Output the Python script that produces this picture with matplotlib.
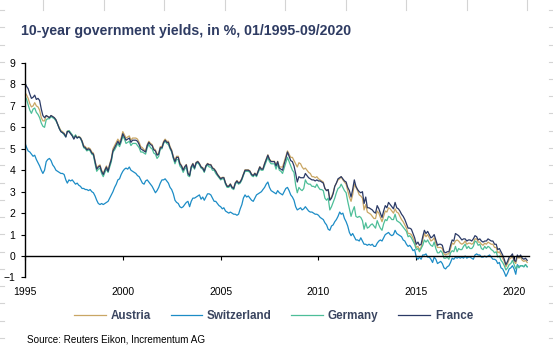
import numpy as np
import pandas as pd
import matplotlib
matplotlib.use("Agg")
import matplotlib.pyplot as plt
import matplotlib.dates as mdates
from matplotlib.lines import Line2D

plt.rcParams['font.family'] = ['Liberation Sans', 'DejaVu Sans']

# monthly 10y yields in %, 01/1995 - 09/2020
austria = [
    7.63, 7.50, 7.35, 7.10, 6.95, 7.00, 7.15, 7.00, 6.95, 6.80, 6.45, 6.30,  # 1995
    6.30, 6.55, 6.50, 6.45, 6.55, 6.50, 6.45, 6.35, 6.15, 6.00, 5.85, 5.80,  # 1996
    5.73, 5.58, 5.83, 5.83, 5.73, 5.63, 5.48, 5.63, 5.53, 5.58, 5.53, 5.38,  # 1997
    5.15, 5.10, 5.00, 5.05, 5.00, 4.85, 4.80, 4.45, 4.10, 4.20, 4.25, 4.00,  # 1998
    3.85, 4.05, 4.20, 4.00, 4.30, 4.55, 5.00, 5.15, 5.30, 5.45, 5.30, 5.50,  # 1999
    5.80, 5.65, 5.50, 5.55, 5.60, 5.40, 5.50, 5.50, 5.50, 5.45, 5.30, 5.10,  # 2000
    5.05, 4.95, 4.90, 5.20, 5.35, 5.25, 5.20, 5.00, 4.95, 4.75, 4.80, 5.10,  # 2001
    5.10, 5.35, 5.45, 5.35, 5.35, 5.10, 4.95, 4.65, 4.45, 4.65, 4.65, 4.35,  # 2002
    4.22, 4.02, 4.17, 4.27, 3.87, 3.78, 4.17, 4.32, 4.12, 4.37, 4.42, 4.32,  # 2003
    4.17, 4.12, 3.97, 4.22, 4.32, 4.27, 4.27, 4.12, 4.07, 3.97, 3.82, 3.72,  # 2004
    3.62, 3.67, 3.67, 3.42, 3.27, 3.27, 3.37, 3.22, 3.17, 3.42, 3.52, 3.42,  # 2005
    3.47, 3.62, 3.82, 4.02, 4.02, 4.02, 3.97, 3.82, 3.77, 3.87, 3.77, 3.97,  # 2006
    4.17, 4.07, 4.07, 4.32, 4.52, 4.72, 4.52, 4.42, 4.42, 4.42, 4.22, 4.42,  # 2007
    4.15, 4.15, 4.15, 4.40, 4.65, 4.90, 4.75, 4.60, 4.60, 4.45, 4.30, 4.15,  # 2008
    4.35, 4.30, 4.15, 4.05, 4.10, 4.00, 3.90, 3.85, 3.70, 3.70, 3.65, 3.70,  # 2009
    3.60, 3.55, 3.50, 3.45, 3.15, 3.05, 3.10, 2.65, 2.75, 2.95, 3.25, 3.40,  # 2010
    3.55, 3.60, 3.70, 3.55, 3.45, 3.35, 3.05, 2.75, 2.55, 2.85, 3.35, 3.20,  # 2011
    3.05, 2.85, 2.80, 2.70, 2.15, 2.40, 2.05, 2.00, 1.95, 1.85, 1.75, 1.75,  # 2012
    2.10, 2.00, 1.80, 1.60, 1.85, 2.10, 2.05, 2.25, 2.20, 2.10, 2.00, 2.20,  # 2013
    2.05, 2.00, 1.85, 1.70, 1.60, 1.45, 1.30, 1.05, 1.05, 1.00, 0.85, 0.65,  # 2014
    0.40, 0.45, 0.30, 0.40, 0.75, 1.05, 0.90, 1.00, 0.85, 0.70, 0.75, 0.85,  # 2015
    0.60, 0.40, 0.40, 0.40, 0.35, 0.10, 0.05, 0.10, 0.10, 0.35, 0.60, 0.55,  # 2016
    0.70, 0.75, 0.70, 0.60, 0.55, 0.60, 0.70, 0.55, 0.60, 0.60, 0.55, 0.60,  # 2017
    0.80, 0.80, 0.65, 0.65, 0.55, 0.50, 0.60, 0.55, 0.65, 0.60, 0.55, 0.55,  # 2018
    0.40, 0.40, 0.15, 0.20, 0.05, -0.10, -0.25, -0.50, -0.35, -0.15, -0.10, 0.00,  # 2019
    -0.25, -0.35, -0.05, -0.10, -0.05, -0.20, -0.25, -0.20, -0.30,  # 2020
]

switzerland = [
    5.27, 5.05, 4.90, 4.85, 4.75, 4.65, 4.70, 4.50, 4.35, 4.20, 4.00, 3.85,  # 1995
    4.00, 4.40, 4.50, 4.55, 4.45, 4.25, 4.15, 4.00, 3.95, 3.90, 3.85, 3.85,  # 1996
    3.80, 3.55, 3.40, 3.55, 3.50, 3.55, 3.45, 3.35, 3.40, 3.30, 3.25, 3.15,  # 1997
    3.15, 3.10, 3.10, 3.05, 3.10, 3.00, 2.95, 2.80, 2.60, 2.45, 2.40, 2.45,  # 1998
    2.40, 2.45, 2.50, 2.55, 2.70, 2.85, 3.00, 3.20, 3.35, 3.55, 3.60, 3.80,  # 1999
    3.95, 4.05, 4.10, 4.05, 4.15, 4.00, 3.95, 3.90, 3.85, 3.75, 3.70, 3.55,  # 2000
    3.40, 3.35, 3.50, 3.55, 3.45, 3.35, 3.25, 3.10, 2.95, 3.05, 3.20, 3.40,  # 2001
    3.55, 3.55, 3.60, 3.50, 3.40, 3.20, 3.10, 2.90, 2.60, 2.50, 2.45, 2.30,  # 2002
    2.25, 2.30, 2.40, 2.50, 2.55, 2.30, 2.55, 2.70, 2.70, 2.75, 2.80, 2.85,  # 2003
    2.65, 2.75, 2.60, 2.75, 2.90, 2.90, 2.85, 2.70, 2.55, 2.55, 2.45, 2.35,  # 2004
    2.30, 2.20, 2.25, 2.10, 2.05, 2.00, 2.05, 2.00, 1.95, 1.95, 1.90, 1.95,  # 2005
    2.20, 2.40, 2.70, 2.85, 2.75, 2.80, 2.70, 2.60, 2.55, 2.70, 2.85, 2.90,  # 2006
    2.95, 3.00, 3.10, 3.20, 3.35, 3.45, 3.20, 3.05, 3.00, 2.95, 2.90, 3.05,  # 2007
    2.95, 2.90, 2.85, 3.00, 3.15, 3.20, 3.05, 2.85, 2.75, 2.60, 2.30, 2.15,  # 2008
    2.20, 2.25, 2.15, 2.20, 2.30, 2.20, 2.10, 2.05, 2.05, 2.00, 1.95, 1.95,  # 2009
    1.90, 1.80, 1.75, 1.70, 1.55, 1.45, 1.25, 1.20, 1.40, 1.45, 1.60, 1.70,  # 2010
    1.85, 2.05, 1.95, 2.00, 1.75, 1.60, 1.40, 1.10, 0.95, 1.05, 0.90, 0.75,  # 2011
    0.75, 0.70, 0.85, 0.70, 0.55, 0.55, 0.50, 0.55, 0.50, 0.55, 0.45, 0.45,  # 2012
    0.60, 0.70, 0.75, 0.70, 0.85, 1.00, 1.05, 1.10, 1.00, 0.95, 1.00, 1.20,  # 2013
    1.05, 1.00, 0.95, 0.90, 0.75, 0.70, 0.55, 0.45, 0.50, 0.40, 0.25, 0.30,  # 2014
    -0.05, -0.15, -0.05, -0.15, 0.05, 0.05, 0.10, -0.05, -0.05, -0.15, -0.30, -0.05,  # 2015
    -0.15, -0.35, -0.30, -0.25, -0.35, -0.55, -0.60, -0.50, -0.45, -0.30, -0.10, -0.15,  # 2016
    -0.05, -0.10, -0.05, -0.10, -0.05, -0.10, 0.00, -0.10, -0.05, -0.05, -0.10, -0.15,  # 2017
    0.05, 0.10, 0.05, 0.05, -0.05, -0.05, 0.00, -0.05, 0.00, 0.05, -0.05, -0.15,  # 2018
    -0.15, -0.20, -0.35, -0.30, -0.55, -0.60, -0.75, -0.95, -0.80, -0.60, -0.55, -0.45,  # 2019
    -0.60, -0.85, -0.40, -0.50, -0.45, -0.45, -0.50, -0.40, -0.50,  # 2020
]

germany = [
    7.45, 7.30, 7.05, 6.80, 6.65, 6.85, 6.90, 6.70, 6.60, 6.45, 6.20, 6.05,  # 1995
    6.00, 6.35, 6.40, 6.40, 6.50, 6.45, 6.40, 6.30, 6.15, 5.95, 5.80, 5.75,  # 1996
    5.65, 5.55, 5.80, 5.85, 5.75, 5.65, 5.50, 5.65, 5.50, 5.55, 5.50, 5.30,  # 1997
    5.05, 5.00, 4.90, 4.95, 4.90, 4.75, 4.70, 4.30, 3.95, 4.05, 4.10, 3.85,  # 1998
    3.70, 3.90, 4.05, 3.90, 4.15, 4.40, 4.85, 4.95, 5.10, 5.25, 5.10, 5.30,  # 1999
    5.60, 5.45, 5.25, 5.30, 5.35, 5.15, 5.25, 5.25, 5.25, 5.15, 5.05, 4.85,  # 2000
    4.85, 4.80, 4.75, 5.05, 5.20, 5.05, 5.00, 4.80, 4.75, 4.55, 4.65, 5.00,  # 2001
    5.00, 5.25, 5.35, 5.25, 5.20, 5.00, 4.85, 4.55, 4.30, 4.50, 4.50, 4.20,  # 2002
    4.10, 3.90, 4.05, 4.15, 3.75, 3.70, 4.10, 4.20, 4.05, 4.30, 4.35, 4.25,  # 2003
    4.10, 4.05, 3.90, 4.15, 4.25, 4.15, 4.15, 4.00, 4.00, 3.85, 3.75, 3.65,  # 2004
    3.55, 3.60, 3.60, 3.35, 3.20, 3.20, 3.30, 3.15, 3.10, 3.35, 3.45, 3.35,  # 2005
    3.40, 3.55, 3.75, 3.95, 3.95, 3.95, 3.90, 3.75, 3.70, 3.80, 3.70, 3.90,  # 2006
    4.05, 4.00, 4.00, 4.20, 4.40, 4.60, 4.40, 4.30, 4.30, 4.30, 4.05, 4.30,  # 2007
    4.00, 3.95, 3.85, 4.10, 4.35, 4.60, 4.40, 4.20, 4.00, 3.90, 3.30, 2.95,  # 2008
    3.20, 3.10, 3.05, 3.15, 3.55, 3.40, 3.35, 3.35, 3.25, 3.25, 3.20, 3.35,  # 2009
    3.20, 3.10, 3.10, 3.05, 2.70, 2.60, 2.70, 2.15, 2.30, 2.50, 2.70, 2.95,  # 2010
    3.15, 3.20, 3.35, 3.20, 3.05, 2.95, 2.55, 2.20, 1.85, 2.10, 2.30, 1.85,  # 2011
    1.80, 1.85, 1.80, 1.65, 1.25, 1.55, 1.30, 1.35, 1.45, 1.50, 1.40, 1.30,  # 2012
    1.65, 1.45, 1.30, 1.20, 1.50, 1.70, 1.65, 1.85, 1.80, 1.70, 1.70, 1.95,  # 2013
    1.65, 1.60, 1.55, 1.45, 1.35, 1.25, 1.15, 0.90, 0.95, 0.85, 0.70, 0.55,  # 2014
    0.30, 0.35, 0.20, 0.35, 0.50, 0.75, 0.65, 0.75, 0.60, 0.50, 0.45, 0.65,  # 2015
    0.35, 0.15, 0.15, 0.25, 0.15, -0.10, -0.10, -0.05, -0.15, 0.15, 0.25, 0.20,  # 2016
    0.45, 0.20, 0.35, 0.30, 0.30, 0.45, 0.55, 0.35, 0.45, 0.35, 0.35, 0.45,  # 2017
    0.70, 0.65, 0.50, 0.55, 0.35, 0.30, 0.45, 0.35, 0.45, 0.40, 0.30, 0.25,  # 2018
    0.15, 0.20, -0.05, 0.00, -0.20, -0.30, -0.45, -0.65, -0.55, -0.40, -0.35, -0.20,  # 2019
    -0.40, -0.60, -0.45, -0.55, -0.45, -0.45, -0.50, -0.40, -0.50,  # 2020
]

france = [
    8.07, 7.90, 7.80, 7.55, 7.35, 7.40, 7.50, 7.30, 7.35, 7.25, 6.85, 6.55,  # 1995
    6.45, 6.55, 6.50, 6.45, 6.55, 6.50, 6.45, 6.35, 6.15, 5.95, 5.80, 5.75,  # 1996
    5.70, 5.55, 5.80, 5.80, 5.70, 5.60, 5.45, 5.60, 5.50, 5.55, 5.50, 5.35,  # 1997
    5.10, 5.05, 4.95, 5.00, 4.95, 4.80, 4.75, 4.40, 4.05, 4.15, 4.20, 3.95,  # 1998
    3.80, 4.00, 4.15, 3.95, 4.25, 4.50, 4.90, 5.05, 5.20, 5.35, 5.20, 5.40,  # 1999
    5.70, 5.55, 5.40, 5.45, 5.50, 5.30, 5.40, 5.40, 5.40, 5.35, 5.20, 5.00,  # 2000
    4.95, 4.90, 4.85, 5.15, 5.30, 5.20, 5.15, 4.95, 4.90, 4.70, 4.75, 5.05,  # 2001
    5.05, 5.30, 5.40, 5.30, 5.30, 5.05, 4.90, 4.60, 4.40, 4.60, 4.60, 4.30,  # 2002
    4.20, 4.00, 4.15, 4.25, 3.85, 3.75, 4.15, 4.30, 4.10, 4.35, 4.40, 4.30,  # 2003
    4.15, 4.10, 3.95, 4.20, 4.30, 4.25, 4.25, 4.10, 4.05, 3.95, 3.80, 3.70,  # 2004
    3.60, 3.65, 3.65, 3.40, 3.25, 3.25, 3.35, 3.20, 3.15, 3.40, 3.50, 3.40,  # 2005
    3.45, 3.60, 3.80, 4.00, 4.00, 4.00, 3.95, 3.80, 3.75, 3.85, 3.75, 3.95,  # 2006
    4.15, 4.05, 4.05, 4.30, 4.50, 4.70, 4.50, 4.40, 4.40, 4.40, 4.20, 4.40,  # 2007
    4.10, 4.05, 4.00, 4.30, 4.55, 4.85, 4.65, 4.45, 4.40, 4.20, 3.85, 3.45,  # 2008
    3.70, 3.65, 3.65, 3.65, 3.85, 3.75, 3.65, 3.60, 3.55, 3.55, 3.50, 3.55,  # 2009
    3.50, 3.50, 3.45, 3.40, 3.15, 3.05, 3.10, 2.60, 2.70, 2.90, 3.25, 3.40,  # 2010
    3.60, 3.65, 3.70, 3.60, 3.50, 3.45, 3.20, 3.05, 2.75, 3.10, 3.55, 3.25,  # 2011
    3.10, 3.00, 2.95, 3.00, 2.45, 2.75, 2.25, 2.25, 2.20, 2.15, 2.05, 2.00,  # 2012
    2.35, 2.20, 2.00, 1.80, 2.10, 2.35, 2.25, 2.50, 2.40, 2.30, 2.20, 2.50,  # 2013
    2.25, 2.20, 2.10, 1.95, 1.85, 1.70, 1.50, 1.30, 1.30, 1.25, 1.05, 0.85,  # 2014
    0.55, 0.65, 0.50, 0.55, 0.90, 1.20, 1.05, 1.15, 1.00, 0.85, 0.90, 1.00,  # 2015
    0.75, 0.50, 0.55, 0.55, 0.50, 0.20, 0.15, 0.20, 0.20, 0.50, 0.75, 0.70,  # 2016
    1.05, 1.00, 0.95, 0.85, 0.75, 0.80, 0.80, 0.70, 0.75, 0.75, 0.70, 0.80,  # 2017
    0.95, 0.90, 0.75, 0.80, 0.70, 0.65, 0.70, 0.70, 0.80, 0.75, 0.70, 0.70,  # 2018
    0.55, 0.55, 0.30, 0.35, 0.20, 0.05, -0.15, -0.40, -0.25, -0.05, 0.00, 0.10,  # 2019
    -0.20, -0.25, 0.05, -0.05, 0.05, -0.10, -0.15, -0.10, -0.20,  # 2020
]

dates = pd.date_range("1995-01-01", periods=len(france), freq="MS")

names = ["Austria", "Switzerland", "Germany", "France"]
colors = ["#C9A664", "#1C8CC6", "#4DBE98", "#2B3A66"]
series = [austria, switzerland, germany, france]

fig = plt.figure(figsize=(5.53, 3.46), dpi=100)
ax = fig.add_axes([0.0452, 0.198, 0.911, 0.620])

for name, col, vals in zip(names, colors, series):
    ax.plot(dates, vals, color=col, lw=0.9, label=name)

ax.set_ylim(-1, 9)
ax.set_yticks(range(-1, 10))
ax.set_xlim(pd.Timestamp("1995-01-01"), pd.Timestamp("2020-10-01"))
ax.xaxis.set_major_locator(mdates.YearLocator(5))
ax.xaxis.set_major_formatter(mdates.DateFormatter("%Y"))

ax.spines["top"].set_visible(False)
ax.spines["right"].set_visible(False)
ax.spines["bottom"].set_position(("data", 0))
ax.spines["bottom"].set_linewidth(1.0)
ax.spines["left"].set_linewidth(1.0)
ax.tick_params(axis="y", direction="out", length=3, width=0.8, labelsize=7.5, pad=4)
ax.tick_params(axis="x", direction="out", length=3, width=0.8, labelsize=7.5, pad=19)

fig.text(0.038, 0.91, "10-year government yields, in %, 01/1995-09/2020",
         fontsize=10.2, fontweight="bold", color="#2F3C63", va="center")

leg = fig.legend(loc="center", bbox_to_anchor=(0.4946, 0.087), ncol=4, frameon=False,
                 handlelength=2.7, columnspacing=1.7, handletextpad=0.42,
                 prop={"size": 8.4, "weight": "bold"})
for t in leg.get_texts():
    t.set_color("#3A4560")

fig.text(0.049, 0.02, "Source: Reuters Eikon, Incrementum AG", fontsize=7.1, va="center")

# faint spreadsheet cell borders at the picture edges
for yy in np.arange(10, 346, 17.25):
    fy = 1 - yy / 346
    fig.add_artist(Line2D([0, 4 / 553], [fy, fy], color="#D4D4D4", lw=0.8))
    fig.add_artist(Line2D([549 / 553, 1], [fy, fy], color="#D4D4D4", lw=0.8))
for xx in np.arange(43, 540, 60.5):
    fig.add_artist(Line2D([xx / 553, xx / 553], [1 - 10 / 346, 1], color="#D4D4D4", lw=0.8))

fig.savefig("out.png", dpi=100)
